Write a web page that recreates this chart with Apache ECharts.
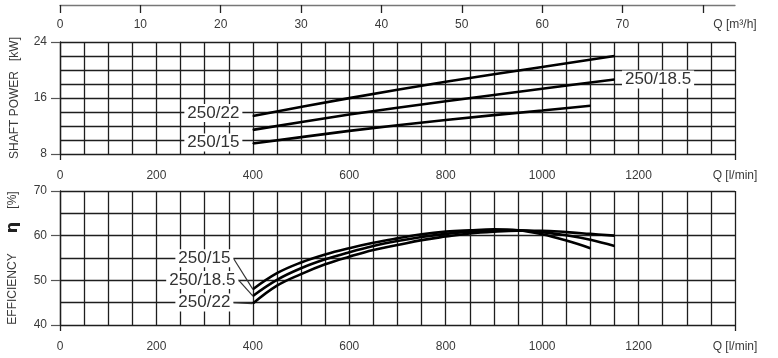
<!DOCTYPE html>
<html>
<head>
<meta charset="utf-8">
<script src="https://cdn.jsdelivr.net/npm/echarts@6/dist/echarts.min.js"></script>
<style>
html,body{margin:0;padding:0;background:#fff;}
#chart{width:778px;height:358px;}
</style>
</head>
<body>
<div id="chart"></div>
<script>
// ---- data ----
const seriesNames = ['250/15', '250/18.5', '250/22'];

// shaft power [kW] vs Q [l/min]
const qPower15 = [400, 600, 800, 1000, 1100];
const power15 = [9.5, 11.3, 12.86, 14.22, 14.9];
const qPower185 = [400, 600, 800, 1000, 1150];
const power185 = [11.45, 13.64, 15.53, 17.32, 18.65];
const qPower22 = [400, 600, 800, 1000, 1150];
const power22 = [13.44, 15.98, 18.33, 20.44, 22.0];

// efficiency [%] vs Q [l/min]
const qEff15 = [400, 450, 500, 550, 600, 650, 700, 750, 800, 850, 900, 950, 1000, 1050, 1100];
const eff15 = [48.0, 51.6, 54.0, 55.8, 57.2, 58.4, 59.4, 60.3, 60.9, 61.2, 61.4, 61.2, 60.3, 58.9, 57.2];
const qEff185 = [400, 450, 500, 550, 600, 650, 700, 750, 800, 850, 900, 950, 1000, 1050, 1100, 1150];
const eff185 = [46.5, 50.1, 52.7, 54.7, 56.3, 57.7, 58.8, 59.7, 60.4, 60.9, 61.2, 61.2, 60.8, 60.1, 59.1, 57.7];
const qEff22 = [400, 450, 500, 550, 600, 650, 700, 750, 800, 850, 900, 950, 1000, 1050, 1100, 1150];
const eff22 = [44.8, 48.8, 51.4, 53.6, 55.3, 56.8, 57.9, 59.0, 59.8, 60.5, 60.9, 61.1, 61.1, 60.8, 60.4, 60.0];

// axis ticks / labels
const qLabels = [0, 200, 400, 600, 800, 1000, 1200, 1400];
const qEdgeTicks = [0, 1400];
const m3hTicks = [0, 10, 20, 30, 40, 50, 60, 70, 80];
const m3hLabels = [0, 10, 20, 30, 40, 50, 60, 70, 84];
const powerLabels = [8, 16, 24];
const effLabels = [40, 50, 60, 70];

// ---- chart ----
const FONT = "'Liberation Sans',Arial,sans-serif";
const TXT = '#3a3a3a';
const GRIDC = '#1e1e1e';

function pairs(xs, ys) { return xs.map((x, i) => [x, ys[i]]); }
function withStartLabel(data, lbl) {
  const d = data.slice();
  d[0] = { value: data[0], label: lbl };
  return d;
}
function withEndLabel(data, lbl) {
  const d = data.slice();
  d[d.length - 1] = { value: data[data.length - 1], label: lbl };
  return d;
}

const boxLabel = {
  show: true,
  formatter: '{a}',
  fontFamily: FONT,
  fontSize: 17,
  color: '#333',
  backgroundColor: '#fff',
  padding: [1, 3, 0, 3]
};

const chart = echarts.init(document.getElementById('chart'), null, { renderer: 'canvas' });

const xBase = (g) => ({
  type: 'value', gridIndex: g, position: 'bottom', min: 0, max: 1400, interval: 50,
  axisLine: { show: false }, axisTick: { show: false }, axisLabel: { show: false },
  splitLine: { show: true, lineStyle: { color: GRIDC, width: 1.3 } }
});
const xOver = (g) => ({
  type: 'value', gridIndex: g, position: 'bottom', min: 0, max: 1400,
  axisLine: { show: false },
  axisTick: { show: true, customValues: qEdgeTicks, length: 6, lineStyle: { color: GRIDC, width: 1.3 } },
  splitLine: { show: false },
  axisLabel: {
    customValues: qLabels, margin: 16, fontSize: 12, fontFamily: FONT, color: TXT,
    formatter: v => v === 1400 ? 'Q [l/min]' : String(v)
  }
});
const yBase = (g, min, max, step) => ({
  type: 'value', gridIndex: g, min: min, max: max, interval: step,
  axisLine: { show: true, lineStyle: { color: GRIDC, width: 1.3 } },
  axisTick: { show: false }, axisLabel: { show: false },
  splitLine: { show: true, lineStyle: { color: GRIDC, width: 1.3 } }
});
const yOver = (g, min, max, labels, name, rich) => ({
  type: 'value', gridIndex: g, position: 'left', min: min, max: max,
  name: name, nameLocation: 'middle', nameRotate: 90, nameGap: 39,
  nameTextStyle: { fontFamily: FONT, fontSize: 12, color: TXT, rich: rich },
  axisLine: { show: false },
  axisTick: { show: true, length: 9, customValues: labels, lineStyle: { color: '#555', width: 1.2 } },
  splitLine: { show: false },
  axisLabel: { customValues: labels, margin: 13, fontSize: 12, fontFamily: FONT, color: TXT }
});

const lineStyle = { color: '#000', width: 2.6 };
function curve(name, xi, yi, data, smooth, extra) {
  return Object.assign({
    name: name, type: 'line', xAxisIndex: xi, yAxisIndex: yi, smooth: smooth,
    symbol: 'circle', symbolSize: 1, showSymbol: true, itemStyle: { color: '#000' },
    lineStyle: lineStyle, label: { show: false }, data: data
  }, extra || {});
}

const option = {
  backgroundColor: '#fff',
  animation: false,
  grid: [
    { left: 60, right: 43, top: 42, height: 112, outerBoundsMode: 'none', containLabel: false },
    { left: 60, right: 43, top: 191, height: 134, outerBoundsMode: 'none', containLabel: false }
  ],
  xAxis: [
    xBase(0),
    xBase(1),
    {
      type: 'value', gridIndex: 0, position: 'top', offset: 37,
      min: 0, max: 84,
      axisLine: { show: true, lineStyle: { color: '#777', width: 1.3 } },
      axisTick: { show: true, inside: true, length: 8, customValues: m3hTicks, lineStyle: { color: '#222', width: 1.3 } },
      splitLine: { show: false },
      axisLabel: {
        inside: true, margin: 14, customValues: m3hLabels, fontSize: 12, fontFamily: FONT, color: TXT,
        formatter: v => v === 84 ? 'Q [m³/h]' : String(v)
      }
    },
    xOver(0),
    xOver(1)
  ],
  yAxis: [
    yBase(0, 8, 24, 2),
    yBase(1, 40, 70, 5),
    yOver(0, 8, 24, powerLabels, 'SHAFT POWER   [kW]'),
    yOver(1, 40, 70, effLabels, 'EFFICIENCY      {b|η}    [%]',
      { b: { fontWeight: 'bold', fontSize: 16, color: '#222', fontFamily: 'DejaVu Sans' } })
  ],
  series: [
    curve(seriesNames[2], 0, 0,
      withStartLabel(pairs(qPower22, power22), Object.assign({}, boxLabel, { position: 'left', distance: 10, offset: [0, -3] })), 0.2),
    curve(seriesNames[1], 0, 0,
      withEndLabel(pairs(qPower185, power185), Object.assign({}, boxLabel, { position: 'right', distance: 7 })), 0.2),
    curve(seriesNames[0], 0, 0,
      withStartLabel(pairs(qPower15, power15), Object.assign({}, boxLabel, { position: 'left', distance: 10, offset: [0, -1] })), 0.2),
    curve(seriesNames[0], 1, 1,
      withStartLabel(pairs(qEff15, eff15), Object.assign({}, boxLabel, { position: 'left', distance: 4 })), 0.4,
      { labelLine: { show: true, lineStyle: { color: '#333', width: 1.2 } }, labelLayout: { dx: -15, dy: -31 } }),
    curve(seriesNames[1], 1, 1,
      withStartLabel(pairs(qEff185, eff185), Object.assign({}, boxLabel, { position: 'left', distance: 4 })), 0.4,
      { labelLine: { show: true, lineStyle: { color: '#333', width: 1.2 } }, labelLayout: { dx: -10, dy: -16 } }),
    curve(seriesNames[2], 1, 1,
      withStartLabel(pairs(qEff22, eff22), Object.assign({}, boxLabel, { position: 'left', distance: 4 })), 0.4,
      { labelLine: { show: true, lineStyle: { color: '#333', width: 1.2 } }, labelLayout: { dx: -15, dy: -1 } })
  ]
};
chart.setOption(option);
</script>
</body>
</html>
